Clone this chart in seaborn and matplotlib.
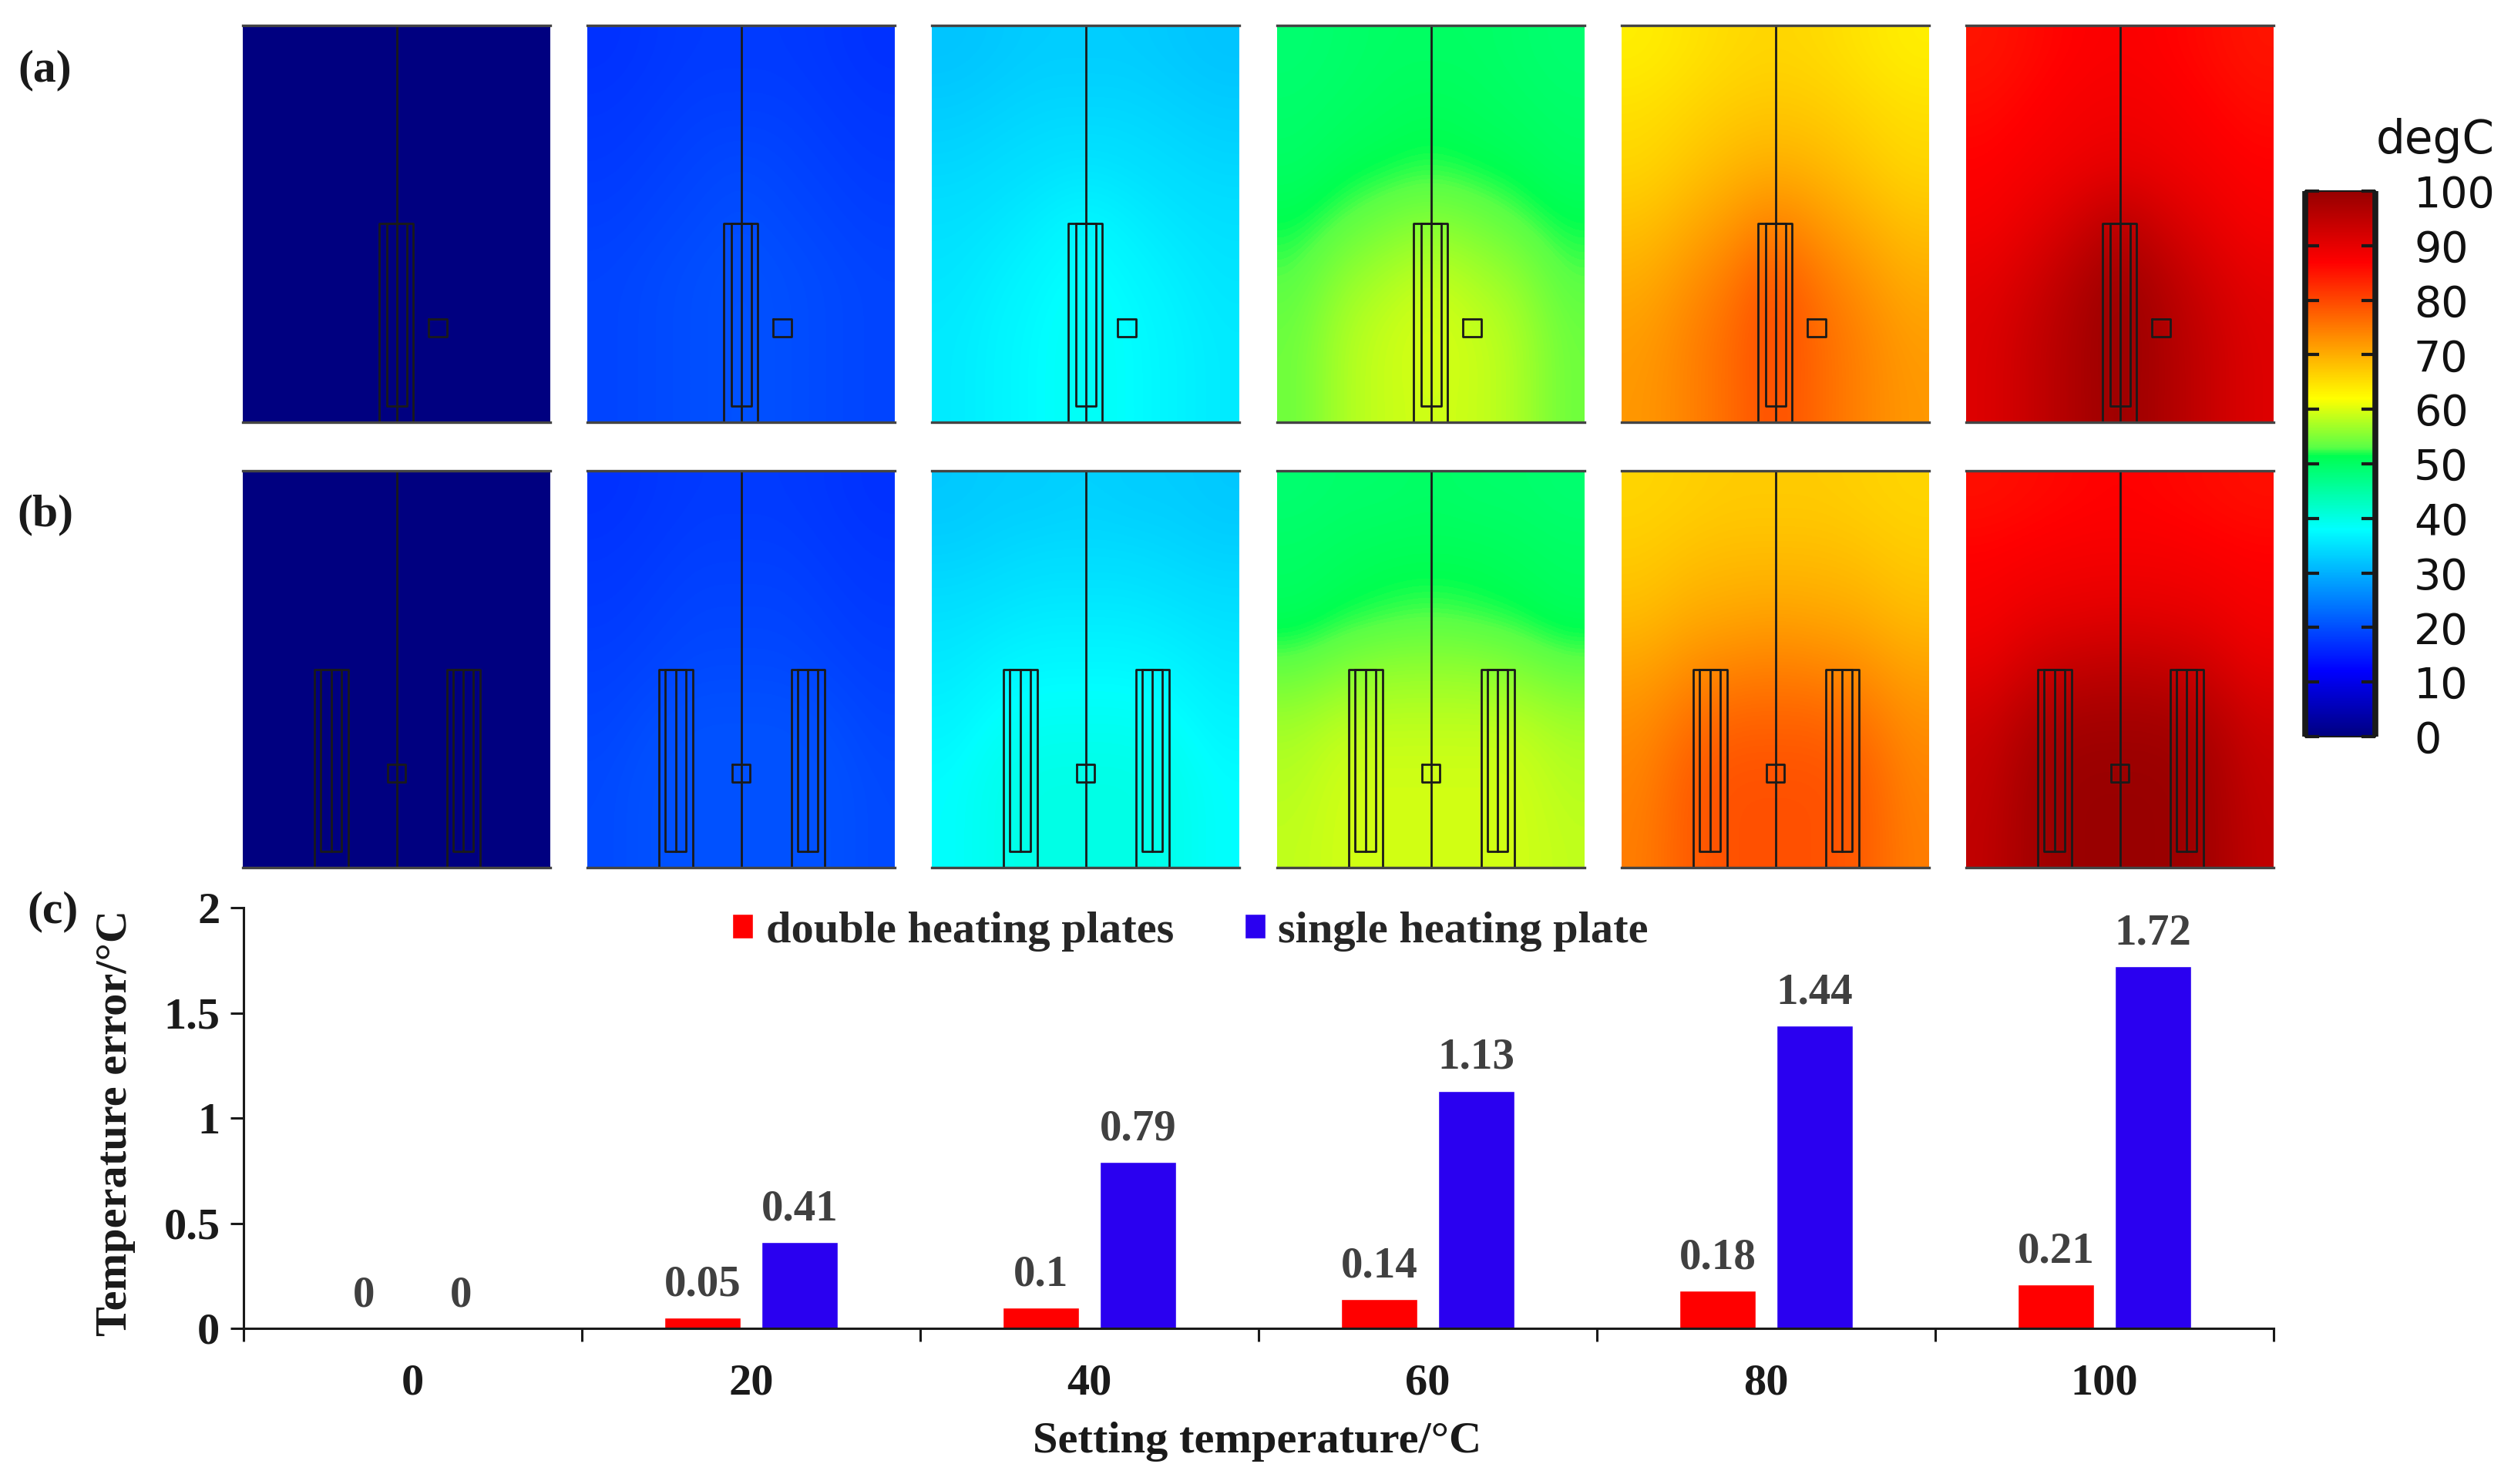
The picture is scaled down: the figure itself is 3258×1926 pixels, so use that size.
import numpy as np
import pandas as pd
import seaborn as sns
import matplotlib.pyplot as plt
from matplotlib.colors import LinearSegmentedColormap

W, H = 3258, 1926

# Bar chart values
settings = ['0', '20', '40', '60', '80', '100']
double_plate = [0, 0.05, 0.1, 0.14, 0.18, 0.21]
single_plate = [0, 0.41, 0.79, 1.13, 1.44, 1.72]

# Temperature (degC). Rows run top to bottom,
# columns run from the panel edge to the centre line, the maps are mirrored.
a0 = [[0, 0, 0, 0]] * 7
a20 = [[17, 17.5, 18, 18], [17.5, 18, 18.5, 18.5], [18, 18.5, 19, 19.5], [18.5, 19, 19.5, 20],
       [19, 19.5, 20, 20.5], [19, 19.5, 20, 20.5], [19, 19.5, 20, 20.5]]
a40 = [[32, 32.5, 33, 33], [33, 33.5, 34, 34], [34, 34.5, 35, 35.5], [35, 35.5, 36.5, 37.5],
       [35.5, 36.5, 37.5, 38.5], [36, 37, 38, 39], [36, 37, 38, 39]]
a60 = [[49, 49.5, 50, 50], [49.5, 50, 50.5, 51], [50, 51, 51.5, 52], [51.5, 53, 54.5, 55.5],
       [53, 56, 57.5, 59], [54, 57.5, 59, 60], [54, 57.5, 59, 59.5]]
a80 = [[63.5, 64.5, 65.5, 66], [65, 66, 67, 67.5], [66, 67.5, 69, 70], [68, 70, 72, 74.5],
       [70, 72.5, 75, 79], [71.5, 74, 76.5, 80], [72, 74, 76.5, 79.5]]
a100 = [[85, 86, 87, 87.5], [86, 87, 88, 88.5], [87, 88, 89, 90], [88, 90, 92.5, 96],
        [90, 92.5, 96, 99.5], [91, 94, 97, 100], [91, 94, 97, 99.5]]

b0 = [[0, 0, 0, 0]] * 7
b20 = [[17, 17.5, 18, 18], [17.5, 18, 18.5, 18.5], [18, 18.5, 19, 19], [18.5, 19, 19.5, 19.5],
       [19, 20, 20.5, 20.5], [19.5, 20.5, 20.5, 20.5], [19.5, 20.5, 20.5, 20.5]]
b40 = [[32.5, 33, 33, 33.5], [33.5, 34, 34.5, 34.5], [35, 35.5, 36, 36], [36, 37, 37.5, 37.5],
       [37, 38.5, 39, 39], [38, 39.5, 40, 40], [38, 39.5, 40, 40]]
b60 = [[49, 49.5, 49.5, 50], [50, 50.5, 51, 51], [50.5, 51.5, 52, 52.5], [53.5, 55, 56, 56],
       [57, 58.5, 58.5, 58.5], [58, 59.5, 59.5, 59.5], [58.5, 59.5, 59.5, 59.5]]
b80 = [[66, 66.5, 67, 67], [67, 68, 68.5, 68.5], [68.5, 70, 70.5, 71], [71, 73, 74, 74.5],
       [73, 76, 77.5, 77.5], [74, 78, 79, 79], [74.5, 78, 79, 79]]
b100 = [[85.5, 86, 86.5, 87], [87, 87.5, 88, 88], [88, 89.5, 90, 90.5], [90, 93, 94.5, 95],
        [93, 97, 98.5, 98.5], [94, 98.5, 99.5, 99.5], [94.5, 98.5, 99.5, 99.5]]

fields_a = [a0, a20, a40, a60, a80, a100]
fields_b = [b0, b20, b40, b60, b80, b100]
cbar_ticks = [0, 10, 20, 30, 40, 50, 60, 70, 80, 90, 100]

# COMSOL style rainbow, stops
cmap_stops = [(0, '#000080'), (12, '#0000ff'), (38, '#00ffff'), (51.5, '#00ff50'),
              (53, '#5aff46'), (62, '#ffff00'), (87, '#ff0000'), (100, '#960000')]
rainbow = LinearSegmentedColormap.from_list('rainbow_c', [(v / 100, c) for v, c in cmap_stops], N=512)

sns.set_theme(style='white')
plt.rcParams['font.family'] = ['Liberation Serif', 'DejaVu Serif']


def px_axes(fig, x0, y0, x1, y1):
    # axes from pixel box, y measured from top of the image
    return fig.add_axes([x0 / W, 1 - y1 / H, (x1 - x0) / W, (y1 - y0) / H])


def draw_box(ax, x0, x1, y_top, y_bot, lw=2.0, closed=True):
    if closed:
        ax.plot([x0, x1, x1, x0, x0], [y_top, y_top, y_bot, y_bot, y_top], color='k', lw=lw)
    else:
        ax.plot([x0, x0, x1, x1], [y_bot, y_top, y_top, y_bot], color='k', lw=lw)


def draw_heater(ax, outer0, outer1, inner0, inner1):
    draw_box(ax, outer0, outer1, 0.50, 0, closed=False)
    draw_box(ax, inner0, inner1, 0.50, 0.041)


def draw_map(ax, half, cmap):
    half = np.array(half, dtype=float)
    full = np.hstack([half, half[:, -2::-1]])
    im = ax.imshow(full, cmap=cmap, vmin=0, vmax=100, extent=(0, 1, 0, 1), aspect='auto',
                   interpolation='bicubic', origin='upper')
    ax.set_xticks([])
    ax.set_yticks([])
    for name in ['left', 'right']:
        ax.spines[name].set_visible(False)
    for name in ['top', 'bottom']:
        ax.spines[name].set_color('#444444')
        ax.spines[name].set_linewidth(2.4)
    ax.plot([0.5, 0.5], [0, 1], color='k', lw=2.0)
    return im


fig = plt.figure(figsize=(W / 100, H / 100), dpi=100, facecolor='white')

panel_left = [315, 762, 1209, 1657, 2104, 2551]
im = None
for left, fa, fb in zip(panel_left, fields_a, fields_b):
    ax_a = px_axes(fig, left, 33, left + 399, 548)
    im = draw_map(ax_a, fa, rainbow)
    draw_heater(ax_a, 0.444, 0.553, 0.468, 0.534)
    draw_box(ax_a, 0.604, 0.663, 0.26, 0.215)
    ax_a.set_xlim(0, 1)
    ax_a.set_ylim(0, 1)

    ax_b = px_axes(fig, left, 611, left + 399, 1126)
    draw_map(ax_b, fb, rainbow)
    for x_out0, x_out1, x_in0, x_in1, x_mid in [(0.234, 0.343, 0.253, 0.321, 0.287),
                                                (0.664, 0.771, 0.685, 0.749, 0.718)]:
        draw_heater(ax_b, x_out0, x_out1, x_in0, x_in1)
        ax_b.plot([x_mid, x_mid], [0.041, 0.50], color='k', lw=2.0)
    draw_box(ax_b, 0.472, 0.530, 0.26, 0.216)
    ax_b.set_xlim(0, 1)
    ax_b.set_ylim(0, 1)

# Colour bar
cax = px_axes(fig, 2991, 248, 3082, 956)
cbar = fig.colorbar(im, cax=cax, ticks=cbar_ticks)
cbar.outline.set_edgecolor('k')
cbar.outline.set_linewidth(1.5)
cax.set_axisbelow(False)
cax.axvline(0, color='k', lw=5.5, solid_capstyle='butt', clip_on=False)
cax.axvline(1, color='k', lw=5.5, solid_capstyle='butt', clip_on=False)
cax.tick_params(axis='y', which='major', direction='in', left=True, right=True, length=13, width=3,
                color='k', pad=36, labelsize=40, labelcolor='#111111')
for lab in cax.get_yticklabels():
    lab.set_family('DejaVu Sans')
fig.text(3160 / W, 1 - 182 / H, 'degC', family='DejaVu Sans', fontsize=43, color='#111111',
         ha='center', va='center')

# Bars
df = pd.DataFrame({
    'setting': settings * 2,
    'error': double_plate + single_plate,
    'type': ['double heating plates'] * len(settings) + ['single heating plate'] * len(settings),
})

ax = px_axes(fig, 316, 1178, 2950, 1724)
sns.barplot(data=df, x='setting', y='error', hue='type', ax=ax, errorbar=None, order=settings,
            palette=['#ff0000', '#2a00f0'], width=0.574, gap=0.22, saturation=1)
ax.set_facecolor('none')
ax.set_xlim(-0.5, 5.5)
ax.set_ylim(0, 2)

for container in ax.containers:
    ax.bar_label(container, fmt='%g', padding=12, fontsize=41, fontweight='bold', color='#404040')

ax.set_xticks(np.arange(-0.5, 6, 1))
ax.set_xticklabels([])
ax.set_xticks(range(len(settings)), minor=True)
ax.set_xticklabels(settings, minor=True, fontsize=42, fontweight='bold', color='k')
ax.set_yticks([0, 0.5, 1, 1.5, 2])
ax.set_yticklabels(['0', '0.5', '1', '1.5', '2'], fontsize=42, fontweight='bold', color='k')
ax.tick_params(axis='x', which='major', bottom=True, length=12, width=2.2, color='k')
ax.tick_params(axis='x', which='minor', bottom=False, length=0, pad=33)
ax.tick_params(axis='y', which='major', left=True, length=12, width=2.2, color='k', pad=10)
for name in ['top', 'right']:
    ax.spines[name].set_visible(False)
for name in ['left', 'bottom']:
    ax.spines[name].set_color('k')
    ax.spines[name].set_linewidth(2.2)

ax.set_xlabel('Setting temperature/°C', fontsize=42, fontweight='bold', color='k')
ax.set_ylabel('Temperature error/°C', fontsize=42, fontweight='bold', color='k')
ax.xaxis.set_label_coords(1631 / W, 1 - 1845 / H, transform=fig.transFigure)
ax.yaxis.set_label_coords(176 / W, 1 - 1457 / H, transform=fig.transFigure)

ax.legend(loc='center left', bbox_to_anchor=(950 / W, 1 - 1209 / H), bbox_transform=fig.transFigure,
          ncol=2, frameon=False, borderpad=0, borderaxespad=0, handlelength=0.47, handleheight=0.47,
          handletextpad=0.28, columnspacing=1.57, title=None,
          prop={'size': 42, 'weight': 'bold'})

# Panel letters
for label, x, y in [('(a)', 58, 91), ('(b)', 59, 668), ('(c)', 68, 1183)]:
    fig.text(x / W, 1 - y / H, label, fontsize=43, fontweight='bold', color='k', ha='center', va='center')

fig.savefig('out.png', dpi=100)
